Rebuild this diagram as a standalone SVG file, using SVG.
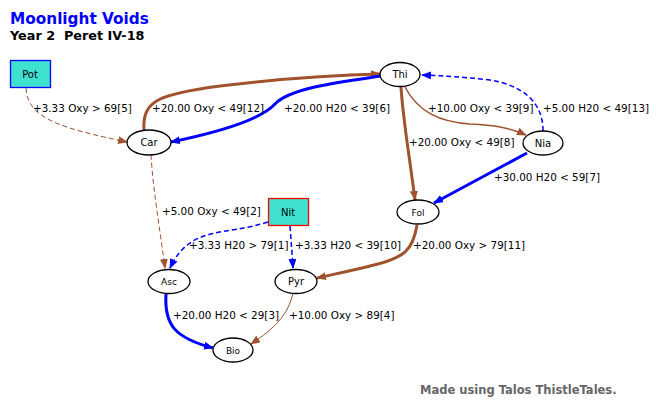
<svg xmlns="http://www.w3.org/2000/svg" width="659" height="404" viewBox="0 0 659 404">
<style>
text{font-family:"DejaVu Sans","Liberation Sans",sans-serif}
.lbl{font-size:10.4px;fill:#000}
.nl{font-size:10px;fill:#000;text-anchor:middle}
.ns{font-size:9px;fill:#000;text-anchor:middle}
.el{fill:#fff;stroke:#000;stroke-width:1.3}
.br{fill:none;stroke:#A0522D}
.bl{fill:none;stroke:#0000FF}
.w1{stroke-width:1}
.w15{stroke-width:1.5}
.w3{stroke-width:3}
.da{stroke-dasharray:5,3}
</style>
<defs>
<marker id="ab" viewBox="0 0 10 8" refX="9" refY="4" markerWidth="10" markerHeight="8" markerUnits="userSpaceOnUse" orient="auto"><path d="M0,0L10,4L0,8z" fill="#A0522D"/></marker>
<marker id="au" viewBox="0 0 10 8" refX="9" refY="4" markerWidth="10" markerHeight="8" markerUnits="userSpaceOnUse" orient="auto"><path d="M0,0L10,4L0,8z" fill="#0000FF"/></marker>
</defs>
<rect width="659" height="404" fill="#fff"/>
<text x="10" y="23.8" style="font-size:15.3px;font-weight:bold;fill:#0000FF">Moonlight Voids</text>
<text x="10" y="39.5" style="font-size:12.8px;font-weight:bold;fill:#000;white-space:pre" xml:space="preserve">Year 2  Peret IV-18</text>
<text x="420" y="394" style="font-size:11.5px;font-weight:bold;fill:#666">Made using Talos ThistleTales.</text>
<g id="connectors">
<path class="br w1 da" d="M26,88 C27,118 60,128 127,142" marker-end="url(#ab)"/>
<path class="br w3" d="M144,130 C142,100 160,94 220,86 C270,80 330,75 380,74" marker-end="url(#ab)"/>
<path class="bl w3" d="M381,76 C340,82 290,88 275,104 C262,118 230,130 171,142" marker-end="url(#au)"/>
<path class="br w15" d="M405,87 C418,112 440,122 470,124 C495,125 510,128 526,135" marker-end="url(#ab)"/>
<path class="bl w15 da" d="M543,131 C543,100 520,85 490,80 C465,77 445,76 422,75" marker-end="url(#au)"/>
<path class="br w3" d="M401,87 C403,120 410,160 415,200" marker-end="url(#ab)"/>
<path class="bl w3" d="M527,153 L434,203" marker-end="url(#au)"/>
<path class="br w1 da" d="M151,155 C153,190 160,230 165,268" marker-end="url(#ab)"/>
<path class="bl w15 da" d="M268,222 C225,236 190,225 170,268" marker-end="url(#au)"/>
<path class="bl w15 da" d="M290,226 C291,240 292,252 293,268" marker-end="url(#au)"/>
<path class="br w3" d="M417,225 C413,250 405,258 370,266 C350,271 335,274 317,278" marker-end="url(#ab)"/>
<path class="bl w3" d="M166,294 C164,325 175,338 213,348" marker-end="url(#au)"/>
<path class="br w1" d="M293,293 C288,315 275,328 251,344" marker-end="url(#ab)"/>
</g>
<g id="edge-labels">
<text class="lbl" x="33" y="112">+3.33 Oxy &gt; 69[5]</text>
<text class="lbl" x="152" y="112">+20.00 Oxy &lt; 49[12]</text>
<text class="lbl" x="284" y="112">+20.00 H20 &lt; 39[6]</text>
<text class="lbl" x="428" y="112">+10.00 Oxy &lt; 39[9]</text>
<text class="lbl" x="543" y="112">+5.00 H20 &lt; 49[13]</text>
<text class="lbl" x="409" y="146">+20.00 Oxy &lt; 49[8]</text>
<text class="lbl" x="494" y="181">+30.00 H20 &lt; 59[7]</text>
<text class="lbl" x="162" y="215">+5.00 Oxy &lt; 49[2]</text>
<text class="lbl" x="189" y="249">+3.33 H20 &gt; 79[1]</text>
<text class="lbl" x="295" y="249">+3.33 H20 &lt; 39[10]</text>
<text class="lbl" x="413" y="249">+20.00 Oxy &gt; 79[11]</text>
<text class="lbl" x="173" y="319">+20.00 H20 &lt; 29[3]</text>
<text class="lbl" x="289" y="319">+10.00 Oxy &gt; 89[4]</text>
</g>
<g id="Pot"><rect x="10.5" y="60.5" width="40" height="27" fill="#40E0D0" stroke="#0000FF" stroke-width="1.3"/><text class="nl" x="30" y="78">Pot</text></g>
<g id="Nit"><rect x="268.5" y="198.5" width="40" height="27" fill="#40E0D0" stroke="#FF0000" stroke-width="1.3"/><text class="nl" x="288" y="216">Nit</text></g>
<g id="Car"><ellipse class="el" cx="149" cy="142.5" rx="22" ry="12.5"/><text class="nl" x="149" y="146">Car</text></g>
<g id="Thi"><ellipse class="el" cx="400" cy="74.5" rx="20" ry="12"/><text class="nl" x="400" y="78">Thi</text></g>
<g id="Nia"><ellipse class="el" cx="543" cy="143" rx="20" ry="12"/><text class="nl" x="543" y="146.5">Nia</text></g>
<g id="Fol"><ellipse class="el" cx="418" cy="212" rx="21" ry="12"/><text class="ns" x="418" y="215.5">Fol</text></g>
<g id="Asc"><ellipse class="el" cx="169" cy="281.5" rx="21" ry="12"/><text class="ns" x="169" y="285">Asc</text></g>
<g id="Pyr"><ellipse class="el" cx="296" cy="281.5" rx="21" ry="12"/><text class="nl" x="296" y="285">Pyr</text></g>
<g id="Bio"><ellipse class="el" cx="233" cy="350" rx="20" ry="12"/><text class="ns" x="233" y="353.5">Bio</text></g>
</svg>
